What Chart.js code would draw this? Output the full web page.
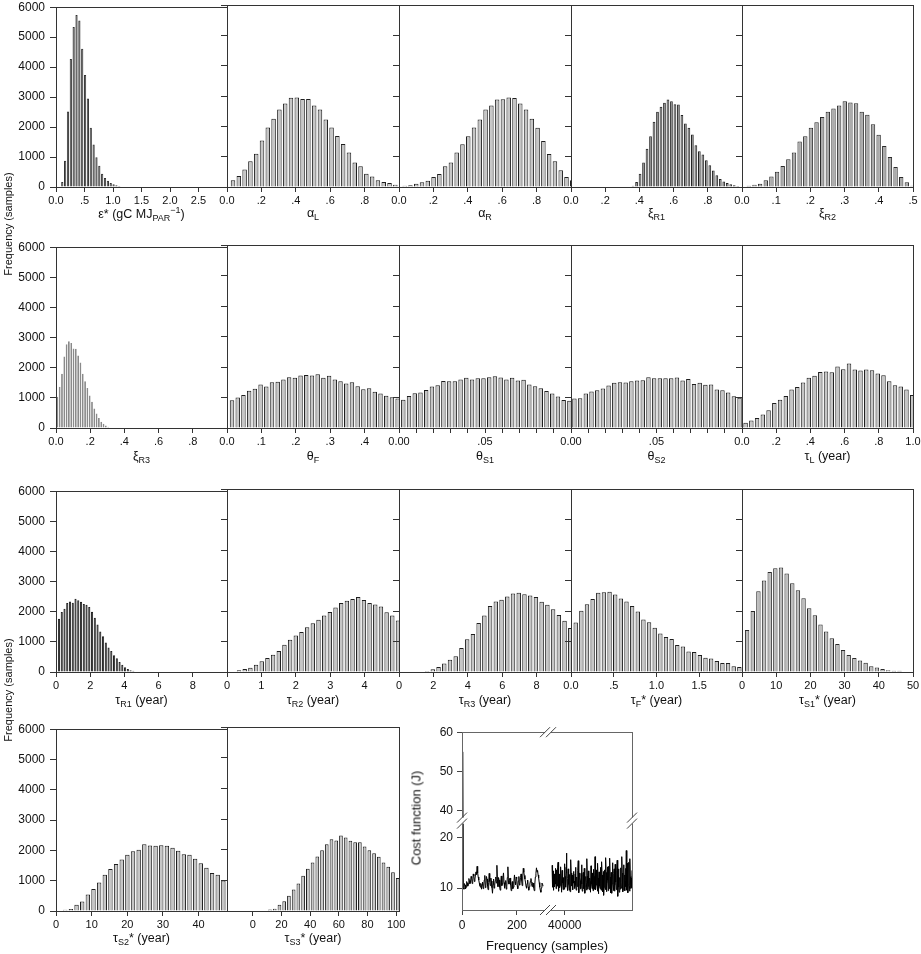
<!DOCTYPE html>
<html>
<head>
<meta charset="utf-8">
<script src="https://cdn.jsdelivr.net/npm/chart.js@4.4.0/dist/chart.umd.min.js"></script>
<style>
  body { margin: 0; background: #fff; font-family: "Liberation Sans", Arial, sans-serif; color: #111; }
  #fig { position: relative; width: 921px; height: 954px; overflow: hidden; }
  #fig canvas { position: absolute; }
  .xt { position: absolute; font-size: 12.5px; white-space: nowrap; transform: translate(-50%, -50%); }
  .xt sub { font-size: 9px; vertical-align: -3px; }
  .xt sup { font-size: 9px; vertical-align: 5px; }
  .yt { position: absolute; font-size: 11px; white-space: nowrap; transform: translate(-50%, -50%) rotate(-90deg); }
  .big { font-size: 13px; }
</style>
</head>
<body>
<div id="fig"></div>
<script>
// ---- histogram counts (samples per bin) ----
const epsCounts = [170, 880, 2520, 4270, 5340, 5740, 5560, 4610, 3740, 2950, 1980, 1420, 990, 710, 440, 300, 210, 130, 95, 55, 30];
const alphaLCounts = [220, 360, 580, 850, 1100, 1530, 1960, 2250, 2555, 2750, 2940, 2950, 2900, 2900, 2690, 2555, 2225, 1960, 1685, 1420, 1135, 805, 680, 440, 350, 220, 165, 130, 75];
const alphaRCounts = [45, 55, 110, 155, 210, 330, 430, 680, 805, 1135, 1410, 1675, 1960, 2225, 2555, 2690, 2885, 2895, 2950, 2930, 2750, 2555, 2250, 1950, 1520, 1090, 850, 550, 330, 220];
const xiR1Counts = [45, 165, 440, 805, 1265, 1675, 2150, 2480, 2645, 2775, 2885, 2830, 2730, 2720, 2370, 2090, 1950, 1730, 1375, 1180, 1070, 880, 715, 540, 385, 265, 185, 130, 90, 55, 30];
const xiR2Counts = [40, 75, 110, 220, 350, 505, 695, 915, 1135, 1500, 1675, 1950, 2135, 2310, 2480, 2590, 2690, 2830, 2785, 2765, 2480, 2380, 2070, 1720, 1355, 990, 660, 330, 155, 45];
const xiR3Counts = [1040, 1370, 1800, 2370, 2780, 2880, 2820, 2640, 2630, 2410, 2170, 1800, 1550, 1330, 1080, 870, 650, 480, 330, 210, 140, 80, 40, 20];
const thetaFCounts = [910, 1000, 1085, 1225, 1290, 1425, 1360, 1500, 1520, 1590, 1665, 1645, 1720, 1740, 1720, 1765, 1645, 1710, 1590, 1535, 1455, 1500, 1370, 1270, 1305, 1185, 1130, 1060, 1010, 965];
const thetaS1Counts = [930, 1050, 1140, 1160, 1250, 1360, 1400, 1545, 1535, 1535, 1590, 1645, 1590, 1630, 1630, 1665, 1700, 1655, 1590, 1645, 1555, 1580, 1425, 1370, 1305, 1215, 1130, 1030, 920, 890];
const thetaS2Counts = [965, 975, 1130, 1195, 1240, 1295, 1390, 1480, 1500, 1490, 1535, 1555, 1565, 1665, 1630, 1630, 1630, 1630, 1655, 1555, 1610, 1445, 1480, 1415, 1425, 1260, 1240, 1160, 1040, 995];
const tauLCounts = [175, 250, 330, 440, 580, 820, 930, 1050, 1260, 1345, 1490, 1645, 1710, 1840, 1850, 1830, 2015, 1930, 2115, 1920, 1885, 1920, 1895, 1785, 1730, 1535, 1400, 1360, 1260, 1085];
const tauR1Counts = [1770, 1990, 2100, 2290, 2340, 2300, 2430, 2380, 2330, 2260, 2230, 2160, 2000, 1800, 1580, 1340, 1190, 980, 810, 700, 560, 460, 330, 240, 160, 100, 60, 40, 20];
const tauR2Counts = [55, 100, 140, 240, 350, 460, 565, 690, 895, 1060, 1200, 1310, 1470, 1600, 1710, 1855, 1965, 2115, 2260, 2335, 2390, 2455, 2360, 2260, 2215, 2150, 1955, 1855, 1690];
const tauR3Counts = [20, 30, 90, 165, 275, 405, 515, 785, 1070, 1245, 1605, 1855, 2160, 2310, 2365, 2475, 2575, 2595, 2550, 2510, 2455, 2300, 2205, 2060, 1865, 1680, 1440];
const tauFCounts = [1625, 2005, 2225, 2390, 2595, 2615, 2630, 2540, 2410, 2310, 2160, 1985, 1725, 1635, 1450, 1265, 1145, 1080, 885, 840, 675, 655, 555, 470, 445, 360, 295, 295, 185, 165];
const tauS1Counts = [1380, 2000, 2650, 3000, 3280, 3400, 3430, 3230, 2910, 2680, 2420, 2090, 1860, 1560, 1330, 1110, 920, 720, 560, 460, 380, 300, 190, 150, 100, 60, 40, 40];
const tauS2Counts = [45, 65, 205, 315, 545, 730, 940, 1200, 1385, 1550, 1700, 1855, 1975, 2020, 2205, 2160, 2150, 2170, 2150, 2085, 1985, 1875, 1855, 1725, 1580, 1430, 1255, 1200, 1005, 875];
const tauS3Counts = [50, 75, 200, 320, 500, 700, 900, 1150, 1380, 1580, 1780, 1980, 2180, 2340, 2300, 2460, 2400, 2290, 2240, 2240, 2100, 1980, 1880, 1770, 1580, 1440, 1260, 1080];

// ---- tick labels ----
const freqTicks = [0, 1000, 2000, 3000, 4000, 5000, 6000];
const epsLabels = ['0.0', '.5', '1.0', '1.5', '2.0', '2.5'];
const fracLabels = ['0.0', '.2', '.4', '.6', '.8'];
const xiR2Labels = ['0.0', '.1', '.2', '.3', '.4', '.5'];
const thetaFLabels = ['0.0', '.1', '.2', '.3', '.4'];
const thetaSTicks = [0, 0.01, 0.02, 0.03, 0.04, 0.05, 0.06, 0.07, 0.08, 0.09];
const thetaSLabels = ['0.00', '', '', '', '', '.05', '', '', '', ''];
const tauLLabels = ['0.0', '.2', '.4', '.6', '.8', '1.0'];
const tauR1Labels = ['0', '2', '4', '6', '8'];
const tauR2Labels = ['0', '1', '2', '3', '4'];
const tauFLabels = ['0.0', '.5', '1.0', '1.5'];
const tauS1Labels = ['0', '10', '20', '30', '40', '50'];
const tauS2Labels = ['0', '10', '20', '30', '40'];
const tauS3Labels = ['0', '20', '40', '60', '80', '100'];

// ---- cost function trace (J per iteration) ----
const costLeftStart = 3, costLeftStep = 2;
const costLeft = [
  55, 10.1, 9.8, 10.9, 10.6, 9.9, 10.2, 11.3, 11.0, 10.4, 10.8, 11.9, 11.5, 10.9, 11.2, 12.3,
  12.0, 10.9, 11.4, 12.8, 12.4, 11.3, 11.8, 12.6, 13.2, 12.7, 14.3, 13.0, 12.2, 11.6, 11.0, 10.5,
  10.2, 10.9, 9.8, 10.6, 11.2, 9.9, 10.4, 11.6, 12.5, 10.1, 10.6, 12.3, 11.8, 10.4, 9.7, 11.1,
  12.9, 11.3, 10.5, 12.0, 11.4, 10.1, 9.0, 10.7, 11.8, 10.0, 10.6, 11.5, 12.2, 11.0, 14.5, 11.7,
  10.3, 12.1, 11.6, 10.2, 9.6, 11.2, 12.4, 10.5, 10.9, 12.0, 13.0, 11.1, 10.0, 10.8, 11.5, 9.8,
  10.4, 12.1, 14.2, 11.4, 10.8, 11.9, 12.0, 10.6, 9.5, 10.7, 11.3, 9.9, 10.2, 11.4, 12.6, 11.2,
  10.7, 12.2, 11.9, 10.5, 9.9, 11.4, 12.3, 10.6, 11.0, 12.1, 12.8, 11.5, 10.5, 12.0, 13.9, 13.1,
  12.5, 11.8, 11.2, 10.4, 10.0, 10.9, 11.6, 10.2, 9.6, 10.3, 10.8, 11.4, 11.9, 10.9, 10.3, 11.1,
  11.0, 10.1, 9.5, 10.8, 12.2, 12.9, 14.0, 13.2, 13.5, 12.6, 12.0, 11.1, 10.2, 9.6, 9.2, 10.1,
  11.0, 10.8, 10.4];
const costRightStart = 36200, costRightStep = 100;
const costRight = [
  14.5, 12.1, 10.2, 13.4, 11.0, 9.6, 12.8, 12.4, 10.3, 11.5, 10.8, 13.9,
  9.9, 12.6, 13.6, 10.4, 11.2, 14.0, 15.1, 10.9, 9.4, 12.2, 12.8, 10.1,
  10.5, 13.3, 14.2, 11.6, 9.2, 11.8, 13.5, 12.0, 11.0, 9.7, 12.1, 10.6,
  9.8, 13.2, 14.8, 11.3, 12.3, 10.2, 14.1, 16.9, 12.9, 10.4, 9.5, 11.9,
  13.8, 12.0, 10.7, 9.6, 11.9, 12.7, 9.3, 11.1, 15.6, 13.0, 10.4, 11.7,
  12.6, 10.0, 9.7, 12.4, 13.3, 11.0, 11.4, 9.9, 10.2, 12.8, 14.1, 10.5,
  9.6, 11.8, 12.2, 10.3, 10.9, 13.5, 15.4, 11.2, 9.1, 10.6, 13.0, 12.1,
  11.5, 9.8, 10.0, 12.9, 14.6, 10.8, 9.4, 11.4, 12.7, 13.1, 10.6, 9.9,
  13.9, 11.6, 9.0, 10.4, 12.3, 11.8, 11.1, 9.6, 15.8, 12.4, 9.8, 11.0,
  13.4, 12.2, 10.3, 9.7, 12.0, 11.3, 9.2, 10.5, 14.4, 12.6, 10.8, 9.9,
  11.7, 13.0, 9.5, 11.2, 13.7, 12.3, 10.1, 9.8, 16.2, 11.9, 9.7, 10.6,
  12.5, 13.6, 11.3, 9.4, 14.9, 12.0, 8.9, 10.5, 13.2, 11.7, 10.4, 9.9,
  12.8, 14.1, 9.6, 10.8, 15.2, 12.6, 10.9, 9.3, 11.8, 13.3, 8.6, 10.1,
  13.6, 12.4, 10.2, 9.7, 16.0, 13.1, 9.3, 11.0, 12.4, 14.2, 11.6, 9.5,
  14.3, 11.8, 9.9, 10.7, 15.9, 12.2, 10.5, 9.1, 13.1, 11.4, 9.0, 10.8,
  15.0, 12.7, 10.7, 9.5, 12.9, 13.8, 9.4, 10.6, 14.7, 12.0, 11.2, 9.7,
  10.3, 13.4, 15.5, 9.6, 8.4, 12.5, 13.8, 10.2, 9.2, 11.7, 12.1, 9.8,
  14.0, 11.1, 10.0, 12.7, 16.2, 13.0, 11.5, 9.3, 9.8, 12.8, 14.6, 10.4,
  12.6, 9.5, 11.4, 13.9, 10.3, 17.4, 12.2, 9.6, 14.9, 11.8, 9.1, 10.7,
  13.3, 15.1, 10.6, 9.4, 15.8, 12.3, 9.9, 11.6, 12.0, 10.1, 13.5, 9.7];
const costHiTicks = [40, 50, 60];
const costLoTicks = [10, 20];
const costLeftXTicks = [0, 200];
const costRightXTicks = [40000];

// ---- layout ----
const colLeft = [56, 227, 399, 571, 742];
const colWidth = [171, 172, 172, 171, 171];
const rowTop = [5, 245, 489, 727];
const rowHeight = [182, 183, 183, 184];
const titleY = [214, 457, 701, 939];
const PAD_L = 50, PAD_R = 14, PAD_T = 10, PAD_B = 22;

const LIGHT = { fill: '#c6c6c6', edge: '#1e1e1e' };

const panels = [
  { row: 0, col: 0, counts: epsCounts, first: 0.11, step: 0.05, min: 0, max: 3, labels: epsLabels, title: 'ε* (gC MJ<sub>PAR</sub><sup>−1</sup>)', fill: '#8a8a8a', edge: '#333' },
  { row: 0, col: 1, counts: alphaLCounts, first: 0.035, step: 0.0337, min: 0, max: 1, labels: fracLabels, title: 'α<sub>L</sub>', ...LIGHT },
  { row: 0, col: 2, counts: alphaRCounts, first: 0.033, step: 0.0336, min: 0, max: 1, labels: fracLabels, title: 'α<sub>R</sub>', ...LIGHT },
  { row: 0, col: 3, counts: xiR1Counts, first: 0.363, step: 0.0204, min: 0, max: 1, labels: fracLabels, title: 'ξ<sub>R1</sub>', fill: '#7e7e7e', edge: '#222' },
  { row: 0, col: 4, counts: xiR2Counts, first: 0.02, step: 0.0165, min: 0, max: 0.5, labels: xiR2Labels, title: 'ξ<sub>R2</sub>', fill: '#ababab', edge: '#2a2a2a' },
  { row: 1, col: 0, counts: xiR3Counts, first: 0.008, step: 0.0135, min: 0, max: 1, labels: fracLabels, title: 'ξ<sub>R3</sub>', fill: '#b8b8b8', edge: '#8a8a8a' },
  { row: 1, col: 1, counts: thetaFCounts, first: 0.0146, step: 0.0166, min: 0, max: 0.5, labels: thetaFLabels, title: 'θ<sub>F</sub>', ...LIGHT },
  { row: 1, col: 2, counts: thetaS1Counts, first: 0.0025, step: 0.00333, min: 0, max: 0.1, labels: thetaSLabels, ticks: thetaSTicks, title: 'θ<sub>S1</sub>', ...LIGHT },
  { row: 1, col: 3, counts: thetaS2Counts, first: 0.002, step: 0.00333, min: 0, max: 0.1, labels: thetaSLabels, ticks: thetaSTicks, title: 'θ<sub>S2</sub>', ...LIGHT },
  { row: 1, col: 4, counts: tauLCounts, first: 0.021, step: 0.0336, min: 0, max: 1, labels: tauLLabels, title: 'τ<sub>L</sub> (year)', ...LIGHT },
  { row: 2, col: 0, counts: tauR1Counts, first: 0.175, step: 0.161, min: 0, max: 10, labels: tauR1Labels, title: 'τ<sub>R1</sub> (year)', fill: '#6f6f6f', edge: '#222' },
  { row: 2, col: 1, counts: tauR2Counts, first: 0.35, step: 0.165, min: 0, max: 5, labels: tauR2Labels, title: 'τ<sub>R2</sub> (year)', ...LIGHT },
  { row: 2, col: 2, counts: tauR3Counts, first: 1.3, step: 0.333, min: 0, max: 10, labels: tauR1Labels, title: 'τ<sub>R3</sub> (year)', ...LIGHT },
  { row: 2, col: 3, counts: tauFCounts, first: 0.055, step: 0.066, min: 0, max: 2, labels: tauFLabels, title: 'τ<sub>F</sub>* (year)', ...LIGHT },
  { row: 2, col: 4, counts: tauS1Counts, first: 1.5, step: 1.65, min: 0, max: 50, labels: tauS1Labels, title: 'τ<sub>S1</sub>* (year)', fill: '#bdbdbd', edge: '#2a2a2a' },
  { row: 3, col: 0, counts: tauS2Counts, first: 2.6, step: 1.585, min: 0, max: 48, labels: tauS2Labels, title: 'τ<sub>S2</sub>* (year)', ...LIGHT },
  { row: 3, col: 1, counts: tauS3Counts, first: 12, step: 3.3, min: -18, max: 102, labels: tauS3Labels, title: 'τ<sub>S3</sub>* (year)', ...LIGHT }
];

const costBox = { left: 462, top: 731, width: 170, height: 179 };

Chart.defaults.font.family = '"Liberation Sans", Arial, sans-serif';
Chart.defaults.color = '#111';

const fig = document.getElementById('fig');

function addCanvas(left, top, w, h) {
  const cv = document.createElement('canvas');
  cv.width = w;
  cv.height = h;
  cv.style.left = left + 'px';
  cv.style.top = top + 'px';
  cv.style.width = w + 'px';
  cv.style.height = h + 'px';
  fig.appendChild(cv);
  return cv;
}

function addText(cls, html, x, y) {
  const d = document.createElement('div');
  d.className = cls;
  d.innerHTML = html;
  d.style.left = x + 'px';
  d.style.top = y + 'px';
  fig.appendChild(d);
}

function framePlugin(color) {
  return {
    id: 'frame',
    afterDraw(chart) {
      const a = chart.chartArea, c = chart.ctx;
      c.save();
      c.strokeStyle = color;
      c.lineWidth = 1;
      c.strokeRect(Math.round(a.left) + 0.5, Math.round(a.top) + 0.5, Math.round(a.right - a.left), Math.round(a.bottom - a.top));
      c.restore();
    }
  };
}

function histogram(p) {
  const w = colWidth[p.col], h = rowHeight[p.row];
  const cv = addCanvas(colLeft[p.col] - PAD_L, rowTop[p.row] - PAD_T, w + PAD_L + PAD_R, h + PAD_T + PAD_B);
  const tickVals = p.ticks || p.labels.map(Number);
  new Chart(cv, {
    type: 'bar',
    data: {
      datasets: [{
        data: p.counts.map((n, i) => ({ x: p.first + i * p.step, y: n })),
        backgroundColor: p.fill,
        borderColor: p.edge,
        borderWidth: 1,
        barPercentage: 0.78,
        categoryPercentage: 1
      }]
    },
    options: {
      responsive: false,
      animation: false,
      events: [],
      layout: { padding: { top: PAD_T, right: PAD_R, left: 0, bottom: 0 } },
      plugins: { legend: { display: false }, tooltip: { enabled: false } },
      scales: {
        x: {
          type: 'linear', min: p.min, max: p.max, offset: false,
          afterBuildTicks: s => { s.ticks = tickVals.map(v => ({ value: v })); },
          afterFit: s => { s.height = PAD_B; },
          border: { display: false },
          grid: { drawOnChartArea: false, offset: false, tickLength: 5, color: '#333' },
          ticks: { autoSkip: false, maxRotation: 0, padding: 2, font: { size: 11 }, callback: (v, i) => p.labels[i] }
        },
        y: {
          min: 0, max: 6000,
          afterBuildTicks: s => { s.ticks = freqTicks.map(v => ({ value: v })); },
          afterFit: s => { s.width = PAD_L; },
          border: { display: false },
          grid: { drawOnChartArea: false, tickLength: 6, color: '#333' },
          ticks: { display: p.col === 0, padding: 5, font: { size: 12 }, callback: v => String(v) }
        }
      }
    },
    plugins: [framePlugin('#333')]
  });
  addText('xt', p.title, colLeft[p.col] + w / 2, titleY[p.row]);
}

panels.forEach(histogram);

// clip each trace to the band of its own axes (broken-axis panel)
const axisClip = {
  id: 'axisClip',
  beforeDatasetDraw(chart, args) {
    const xs = args.meta.xScale, ys = args.meta.yScale, c = chart.ctx;
    c.save();
    c.beginPath();
    c.rect(xs.left, ys.top, xs.right - xs.left, ys.bottom - ys.top);
    c.clip();
  },
  afterDatasetDraw(chart) { chart.ctx.restore(); }
};

const breakMarks = {
  id: 'breakMarks',
  afterDraw(chart) {
    const { ctx: c, chartArea: a, scales } = chart;
    const bx = scales.xa.right, by = scales.yhi.bottom;
    c.save();
    c.strokeStyle = '#444';
    c.lineWidth = 1;
    const mark = (x, y, alongX) => {
      c.fillStyle = '#fff';
      if (alongX) c.fillRect(x - 3, y - 2, 6, 4); else c.fillRect(x - 2, y - 3, 4, 6);
      for (const d of [-3, 3]) {
        const cx = alongX ? x + d : x, cy = alongX ? y : y + d;
        c.beginPath();
        c.moveTo(cx - 5, cy + 5);
        c.lineTo(cx + 5, cy - 5);
        c.stroke();
      }
    };
    mark(bx, a.top, true);
    mark(bx, a.bottom, true);
    mark(a.left, by, false);
    mark(a.right, by, false);
    c.restore();
  }
};

function costChart() {
  const b = costBox;
  const cv = addCanvas(b.left - PAD_L, b.top - PAD_T, b.width + PAD_L + PAD_R, b.height + PAD_T + PAD_B);
  const leftPts = costLeft.map((v, i) => ({ x: costLeftStart + i * costLeftStep, y: v }));
  const rightPts = costRight.map((v, i) => ({ x: costRightStart + i * costRightStep, y: v }));
  const line = { borderColor: '#000', borderWidth: 1, pointRadius: 0, tension: 0, fill: false };
  const tickSet = vals => s => { s.ticks = vals.map(v => ({ value: v })); };
  const yCommon = {
    position: 'left', stack: 'cy', type: 'linear',
    afterFit: s => { s.width = PAD_L; },
    border: { display: false },
    grid: { drawOnChartArea: false, tickLength: 5, color: '#444' },
    ticks: { padding: 4, font: { size: 12 }, callback: v => String(v) }
  };
  const xCommon = {
    position: 'bottom', stack: 'cx', type: 'linear', offset: false,
    afterFit: s => { s.height = PAD_B; },
    border: { display: false },
    grid: { drawOnChartArea: false, tickLength: 5, color: '#444' },
    ticks: { autoSkip: false, maxRotation: 0, padding: 3, font: { size: 12 }, callback: v => String(v) }
  };
  new Chart(cv, {
    type: 'line',
    data: {
      datasets: [
        { data: leftPts, xAxisID: 'xa', yAxisID: 'ylo', ...line },
        { data: leftPts, xAxisID: 'xa', yAxisID: 'yhi', ...line },
        { data: rightPts, xAxisID: 'xb', yAxisID: 'ylo', ...line }
      ]
    },
    options: {
      responsive: false,
      animation: false,
      events: [],
      layout: { padding: { top: PAD_T, right: PAD_R, left: 0, bottom: 0 } },
      plugins: { legend: { display: false }, tooltip: { enabled: false } },
      scales: {
        xa: { ...xCommon, min: 0, max: 313, stackWeight: 86, afterBuildTicks: tickSet(costLeftXTicks) },
        xb: { ...xCommon, min: 35000, max: 60000, stackWeight: 84, afterBuildTicks: tickSet(costRightXTicks) },
        ylo: { ...yCommon, min: 5.7, max: 23.3, stackWeight: 90, weight: 0, afterBuildTicks: tickSet(costLoTicks) },
        yhi: { ...yCommon, min: 37.5, max: 60, stackWeight: 89, weight: 1, afterBuildTicks: tickSet(costHiTicks) }
      }
    },
    plugins: [axisClip, framePlugin('#666'), breakMarks]
  });
  addText('yt big', 'Cost function (J)', 416, 818);
  addText('xt big', 'Frequency (samples)', 547, 945);
}

costChart();

addText('yt', 'Frequency (samples)', 8, 224);
addText('yt', 'Frequency (samples)', 8, 690);
</script>
</body>
</html>
